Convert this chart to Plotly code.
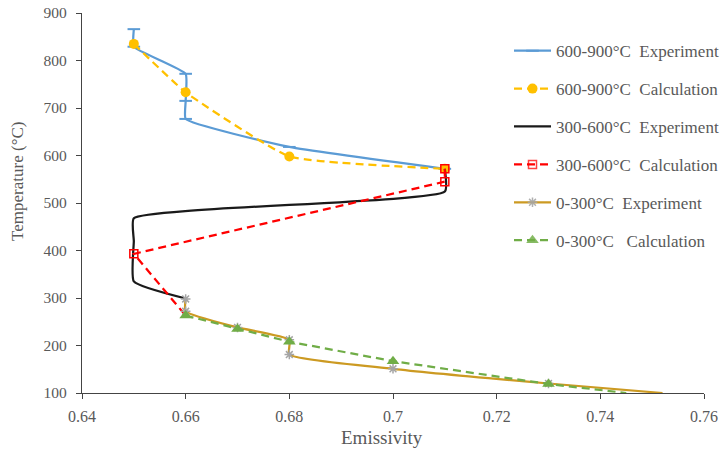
import plotly.graph_objects as go

# ---- data ----
exp_600_900_x = [0.65, 0.65, 0.66, 0.66, 0.66, 0.68, 0.71]
exp_600_900_y = [866, 829, 772, 715, 677, 618, 572]

calc_600_900_x = [0.65, 0.66, 0.68, 0.71]
calc_600_900_y = [835, 733, 598, 572]

exp_300_600_x = [0.71, 0.71, 0.65, 0.65, 0.65, 0.66]
exp_300_600_y = [572, 524, 468, 420, 335, 299]

calc_300_600_x = [0.71, 0.71, 0.65, 0.66]
calc_300_600_y = [572, 545, 393, 263]

exp_0_300_x = [0.66, 0.66, 0.67, 0.68, 0.68, 0.70, 0.73, 0.752]
exp_0_300_y = [298, 272, 238, 212, 181, 151, 120, 100]

calc_0_300_x = [0.66, 0.67, 0.68, 0.70, 0.73, 0.745]
calc_0_300_y = [263, 235, 208, 167, 119, 100]

x_ticks = [0.64, 0.66, 0.68, 0.70, 0.72, 0.74, 0.76]
x_tick_labels = ["0.64", "0.66", "0.68", "0.7", "0.72", "0.74", "0.76"]
y_ticks = [100, 200, 300, 400, 500, 600, 700, 800, 900]

FONT = "Liberation Serif, Times New Roman, serif"
TXT = "#595959"
DASH = "8px,5px"


def hide_last(n):
    # last point sits on the axis edge: no marker is shown there
    return [1] * (n - 1) + [0]


fig = go.Figure()

fig.add_trace(go.Scatter(
    x=exp_600_900_x, y=exp_600_900_y, name="600-900\u00b0C  Experiment",
    mode="lines+markers", legendgroup="a",
    line=dict(color="#5B9BD5", width=2.25, shape="spline", smoothing=0.4),
    marker=dict(symbol="line-ew-open", size=9, line=dict(color="#5B9BD5", width=2))))
fig.add_trace(go.Scatter(
    x=calc_600_900_x, y=calc_600_900_y, name="600-900\u00b0C  Calculation",
    mode="lines+markers", legendgroup="b",
    line=dict(color="#FFC000", width=2.25, dash=DASH, shape="spline", smoothing=0.4),
    marker=dict(symbol="circle", size=10, color="#FFC000")))
fig.add_trace(go.Scatter(
    x=exp_300_600_x, y=exp_300_600_y, name="300-600\u00b0C  Experiment",
    mode="lines", legendgroup="c",
    line=dict(color="#1a1a1a", width=2.25, shape="spline", smoothing=0.45)))
fig.add_trace(go.Scatter(
    x=calc_300_600_x, y=calc_300_600_y, name="300-600\u00b0C  Calculation",
    mode="lines+markers", legendgroup="d",
    line=dict(color="#FF0000", width=2.25, dash=DASH),
    marker=dict(symbol="square-open", size=8, opacity=hide_last(len(calc_300_600_x)),
                color="#FF0000", line=dict(width=1.5))))
fig.add_trace(go.Scatter(
    x=exp_0_300_x, y=exp_0_300_y, name="0-300\u00b0C  Experiment",
    mode="lines+markers", legendgroup="e",
    line=dict(color="#CC9A22", width=2.25, shape="spline", smoothing=0.5),
    marker=dict(symbol="asterisk-open", size=8, opacity=hide_last(len(exp_0_300_x)),
                color="#A5A5A5", line=dict(width=1.5, color="#A5A5A5"))))
fig.add_trace(go.Scatter(
    x=calc_0_300_x, y=calc_0_300_y, name="0-300\u00b0C   Calculation",
    mode="lines+markers", legendgroup="f",
    line=dict(color="#70AD47", width=2.25, dash=DASH),
    marker=dict(symbol="triangle-up", size=11, opacity=hide_last(len(calc_0_300_x)),
                color="#70AD47")))

axis_common = dict(
    showgrid=False, zeroline=False, showline=True, linecolor="#444444", linewidth=1.3,
    ticks="outside", ticklen=5, tickwidth=1.3, tickcolor="#444444",
)

fig.update_xaxes(range=[0.64, 0.76], tickvals=x_ticks, ticktext=x_tick_labels,
                 ticklabelstandoff=4, tickfont=dict(family=FONT, size=16, color=TXT),
                 **axis_common)
fig.update_yaxes(range=[100, 900], tickvals=y_ticks, ticklabelstandoff=6,
                 tickfont=dict(family=FONT, size=15.5, color=TXT), **axis_common)

fig.update_layout(
    width=722, height=449,
    margin=dict(l=82, r=18, t=13, b=56, autoexpand=False),
    plot_bgcolor="white", paper_bgcolor="white",
    font=dict(family=FONT, color=TXT),
    showlegend=True,
    legend=dict(x=0.6865, y=0.947, xanchor="left", yanchor="top",
                font=dict(family=FONT, size=17, color=TXT),
                bgcolor="rgba(0,0,0,0)", tracegroupgap=12.8, itemwidth=37),
    annotations=[
        dict(text="Emissivity", xref="paper", yref="paper", x=0.482, y=-0.116,
             xanchor="center", yanchor="middle", showarrow=False,
             font=dict(family=FONT, size=19, color=TXT)),
        dict(text="Temperature (\u00b0C)", xref="paper", yref="paper", x=-0.103, y=0.558,
             xanchor="center", yanchor="middle", textangle=-90, showarrow=False,
             font=dict(family=FONT, size=17, color=TXT)),
    ],
)

fig.write_html(
    "out.html",
    config={"displayModeBar": False},
    post_script="document.body.style.margin='0';document.body.style.overflow='hidden';",
)
